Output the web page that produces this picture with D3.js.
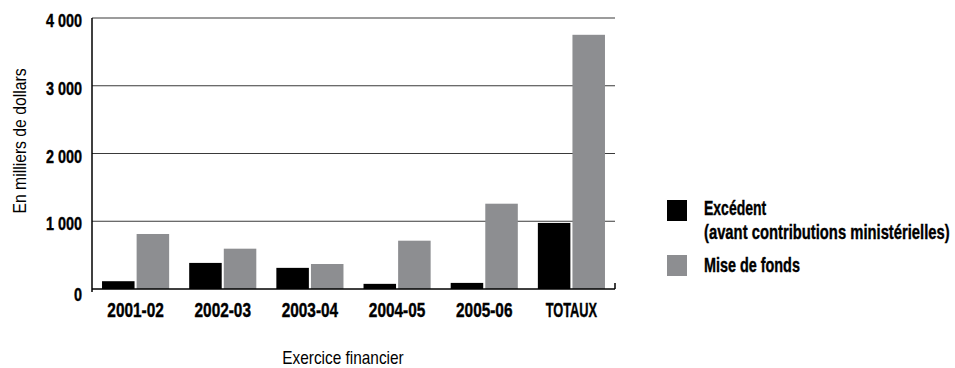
<!DOCTYPE html>
<html>
<head>
<meta charset="utf-8">
<script src="https://cdn.jsdelivr.net/npm/d3@7"></script>
<style>
  body { margin: 0; background: #fff; }
  svg { display: block; }
  .bold { font-family: "Liberation Sans", Arial, sans-serif; font-weight: bold; fill: #000; stroke: #000; stroke-width: 0.4px; }
  .ttl { font-family: "Liberation Sans", Arial, sans-serif; fill: #000; }
</style>
</head>
<body>
<svg width="955" height="368"></svg>
<script>
var categories = ["2001-02", "2002-03", "2003-04", "2004-05", "2005-06", "TOTAUX"];
var excedent = [115, 385, 312, 76, 90, 975];
var miseDeFonds = [812, 595, 369, 713, 1259, 3752];
var yTicks = [0, 1000, 2000, 3000, 4000];
var seriesNames = ["Excédent", "Mise de fonds"];
var seriesColors = ["#000000", "#8d8e91"];

var svg = d3.select("svg");

var plotLeft = 92, plotRight = 615, plotTop = 18, plotBottom = 289;

var x = d3.scaleBand()
    .domain(categories)
    .range([plotLeft, plotRight])
    .paddingInner(0.23)
    .paddingOuter(0.115);

var x1 = d3.scaleBand()
    .domain(seriesNames)
    .range([0, x.bandwidth()])
    .paddingInner(0.06);

var y = d3.scaleLinear()
    .domain([0, 4000])
    .range([plotBottom, plotTop]);

function fmt(v) {
    return d3.format(",")(v).replace(/,/g, " ");
}

// squeeze text horizontally, the source uses a condensed face
function place(px, py, sx) {
    return "translate(" + px + "," + py + ") scale(" + sx + ",1)";
}

// gridlines
svg.append("g")
    .selectAll("line")
    .data(yTicks.slice(1))
    .enter().append("line")
    .attr("x1", plotLeft)
    .attr("x2", plotRight)
    .attr("y1", function (d) { return y(d); })
    .attr("y2", function (d) { return y(d); })
    .attr("stroke", "#3a3a3a")
    .attr("stroke-width", 1.2);

// bars
var rows = categories.map(function (c, i) {
    return { cat: c, vals: [excedent[i], miseDeFonds[i]] };
});

var grp = svg.append("g")
    .selectAll("g")
    .data(rows)
    .enter().append("g")
    .attr("transform", function (d) { return "translate(" + x(d.cat) + ",0)"; });

grp.selectAll("rect")
    .data(function (d) { return d.vals.map(function (v, j) { return { name: seriesNames[j], v: v, j: j }; }); })
    .enter().append("rect")
    .attr("x", function (d) { return x1(d.name); })
    .attr("width", x1.bandwidth())
    .attr("y", function (d) { return y(d.v); })
    .attr("height", function (d) { return y(0) - y(d.v); })
    .attr("fill", function (d) { return seriesColors[d.j]; });

// axis lines
svg.append("line")
    .attr("x1", plotLeft).attr("x2", plotLeft)
    .attr("y1", plotTop).attr("y2", plotBottom + 3)
    .attr("stroke", "#000").attr("stroke-width", 1.5);
svg.append("line")
    .attr("x1", plotLeft).attr("x2", plotRight)
    .attr("y1", plotBottom).attr("y2", plotBottom)
    .attr("stroke", "#000").attr("stroke-width", 1.5);
svg.append("line")
    .attr("x1", plotRight).attr("x2", plotRight)
    .attr("y1", plotBottom - 6).attr("y2", plotBottom)
    .attr("stroke", "#000").attr("stroke-width", 1.5);

// y tick labels
svg.append("g")
    .selectAll("text")
    .data(yTicks)
    .enter().append("text")
    .attr("class", "bold")
    .attr("transform", function (d) { return place(82, y(d) + (d === 0 ? 12 : 9), 0.76); })
    .attr("text-anchor", "end")
    .style("font-size", "19px")
    .text(fmt);

// category labels
svg.append("g")
    .selectAll("text")
    .data(categories)
    .enter().append("text")
    .attr("class", "bold")
    .attr("transform", function (d) { return place(x(d) + x.bandwidth() / 2, 317, d === "TOTAUX" ? 0.64 : 0.77); })
    .attr("text-anchor", "middle")
    .style("font-size", "20px")
    .text(function (d) { return d; });

// axis titles
svg.append("text")
    .attr("class", "ttl")
    .attr("transform", "translate(26,141) rotate(-90) scale(0.9,1)")
    .attr("text-anchor", "middle")
    .style("font-size", "17.5px")
    .text("En milliers de dollars");

svg.append("text")
    .attr("class", "ttl")
    .attr("transform", place(343, 364, 0.88))
    .attr("text-anchor", "middle")
    .style("font-size", "17.5px")
    .text("Exercice financier");

// legend
var legend = svg.append("g").attr("transform", "translate(667,0)");
legend.append("rect").attr("x", 0).attr("y", 200).attr("width", 20).attr("height", 21).attr("fill", seriesColors[0]);
legend.append("rect").attr("x", 0).attr("y", 255).attr("width", 20).attr("height", 21).attr("fill", seriesColors[1]);
legend.append("text").attr("class", "bold").attr("transform", place(37, 215, 0.7)).style("font-size", "20px").text("Excédent");
legend.append("text").attr("class", "bold").attr("transform", place(37, 239, 0.74)).style("font-size", "20px").text("(avant contributions ministérielles)");
legend.append("text").attr("class", "bold").attr("transform", place(37, 272, 0.72)).style("font-size", "20px").text("Mise de fonds");
</script>
</body>
</html>
